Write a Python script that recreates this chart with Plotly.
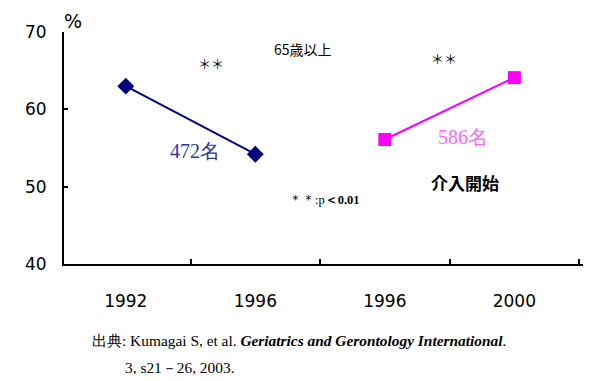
import plotly.graph_objects as go

# Data
categories = ["1992", "1996", "1996", "2000"]
before_x = [0, 1]
before_vals = [63.0, 54.2]
after_x = [2, 3]
after_vals = [56.1, 64.1]
y_ticks = [40, 50, 60, 70]

fig = go.Figure()
fig.add_trace(go.Scatter(
    x=before_x, y=before_vals, mode="lines+markers",
    line=dict(color="#000080", width=2),
    marker=dict(symbol="diamond", size=13, color="#000080"),
    showlegend=False,
))
fig.add_trace(go.Scatter(
    x=after_x, y=after_vals, mode="lines+markers",
    line=dict(color="#FF00FF", width=2),
    marker=dict(symbol="square", size=13, color="#FF00FF"),
    showlegend=False,
))

ann = []
def t(x, y, text, size, color="black", family="DejaVu Sans", xref="x", yref="y", xanchor="center"):
    ann.append(dict(x=x, y=y, xref=xref, yref=yref, text=text, showarrow=False,
                    font=dict(size=size, color=color, family=family), xanchor=xanchor, yanchor="middle"))

t(0.658, 65.9, "＊＊", 13, family="Noto Sans CJK JP")
t(1.368, 67.8, "65歳以上", 14, family="Noto Sans CJK JP")
t(2.456, 66.6, "＊＊", 13, family="Noto Sans CJK JP")
t(0.534, 54.6, "472名", 20, color="#333399", family="Liberation Serif")
t(2.603, 56.4, "586名", 20, color="#FF66FF", family="Liberation Serif")
t(2.619, 50.5, "<b>介入開始</b>", 17, family="Noto Sans CJK JP")
t(1.538, 48.3, "＊＊:p<b>＜0.01</b>", 12.5, family="Liberation Serif")
t(-0.004, 1.047, "%", 19, xref="paper", yref="paper", xanchor="left")
t(0.05, -0.328,
  "出典: Kumagai S, et al. <b><i>Geriatrics and Gerontology International</i></b>.",
  15.4, family="Liberation Serif", xref="paper", yref="paper", xanchor="left")
t(0.114, -0.448, "3, s21－26, 2003.", 15.4, family="Liberation Serif",
  xref="paper", yref="paper", xanchor="left")

fig.update_layout(
    width=592, height=373,
    margin=dict(l=56, r=17, t=24, b=117),
    paper_bgcolor="white", plot_bgcolor="white",
    annotations=ann,
    xaxis=dict(
        range=[-0.477, 3.53],
        tickvals=list(range(len(categories))), ticktext=categories,
        ticks="", showgrid=False, zeroline=False,
        showline=True, linecolor="black", linewidth=2,
        tickfont=dict(family="DejaVu Sans", size=17, color="black"),
        ticklabelstandoff=21,
        minor=dict(tick0=0.5, dtick=1, ticks="inside", ticklen=5, tickcolor="black", tickwidth=1.5),
    ),
    yaxis=dict(
        range=[40, 70], tickvals=y_ticks,
        ticks="inside", ticklen=4, tickcolor="black", tickwidth=2,
        showgrid=False, zeroline=False,
        showline=True, linecolor="black", linewidth=2,
        tickfont=dict(family="DejaVu Sans", size=17, color="black"),
        ticklabelstandoff=12,
    ),
)

fig.write_html("out.html")
